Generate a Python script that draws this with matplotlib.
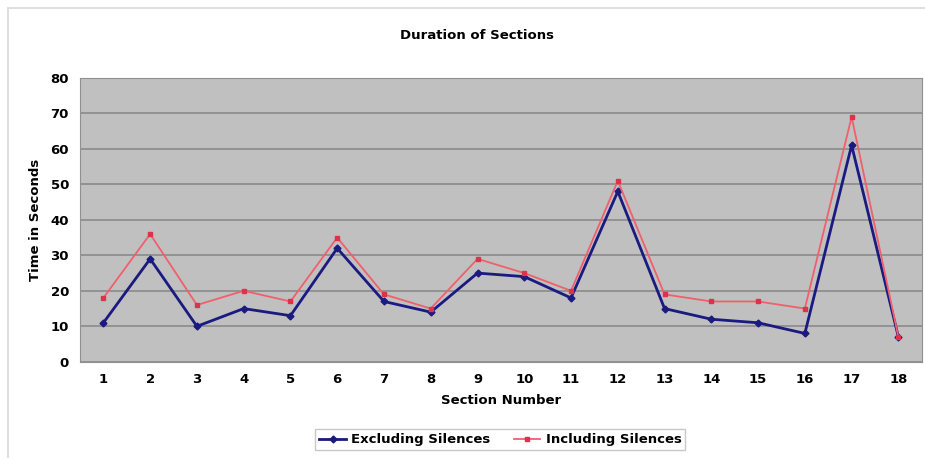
import matplotlib.pyplot as plt
from matplotlib.patches import Rectangle

sections = list(range(1, 19))
excluding = [11, 29, 10, 15, 13, 32, 17, 14, 25, 24, 18, 48, 15, 12, 11, 8, 61, 7]
including = [18, 36, 16, 20, 17, 35, 19, 15, 29, 25, 20, 51, 19, 17, 17, 15, 69, 7]
yticks = [0, 10, 20, 30, 40, 50, 60, 70, 80]

fig = plt.figure(figsize=(9.25, 4.58), dpi=100)
fig.patches.append(Rectangle((0.009, -0.01), 1.0, 0.992, transform=fig.transFigure,
                             fill=False, edgecolor='#d8d8d8', linewidth=1.2))
ax = fig.add_axes([0.0865, 0.21, 0.91, 0.62])
ax.set_facecolor('#c0c0c0')

ax.plot(sections, excluding, color='#1a1a80', linewidth=2, marker='D', markersize=3.5,
        label='Excluding Silences', zorder=3)
ax.plot(sections, including, color='#f0606c', linewidth=1.3, marker='s', markersize=3.5,
        markerfacecolor='#e0304a', markeredgecolor='#e0304a', label='Including Silences', zorder=4)

ax.set_xlim(0.5, 18.5)
ax.set_ylim(0, 80)
ax.set_xticks(sections)
ax.set_yticks(yticks)
ax.yaxis.grid(True, color='#8a8a8a', linewidth=1.2)
ax.set_axisbelow(True)
ax.tick_params(axis='both', length=0, labelsize=9.5, pad=8)
for lbl in ax.get_xticklabels() + ax.get_yticklabels():
    lbl.set_fontweight('bold')
for s in ax.spines.values():
    s.set_color('#909090')

ax.set_xlabel('Section Number', fontsize=9.5, fontweight='bold', labelpad=6)
ax.set_ylabel('Time in Seconds', fontsize=9.5, fontweight='bold', labelpad=6)
fig.text(0.516, 0.923, 'Duration of Sections', ha='center', va='center',
         fontsize=9.5, fontweight='bold')

leg = fig.legend(loc='center', bbox_to_anchor=(0.541, 0.04), ncol=2, fontsize=9.5,
                 frameon=True, fancybox=False, edgecolor='#bbbbbb', handlelength=2,
                 columnspacing=1.8, handletextpad=0.4, borderpad=0.3)
for t in leg.get_texts():
    t.set_fontweight('bold')

fig.savefig('out.png', dpi=100)
